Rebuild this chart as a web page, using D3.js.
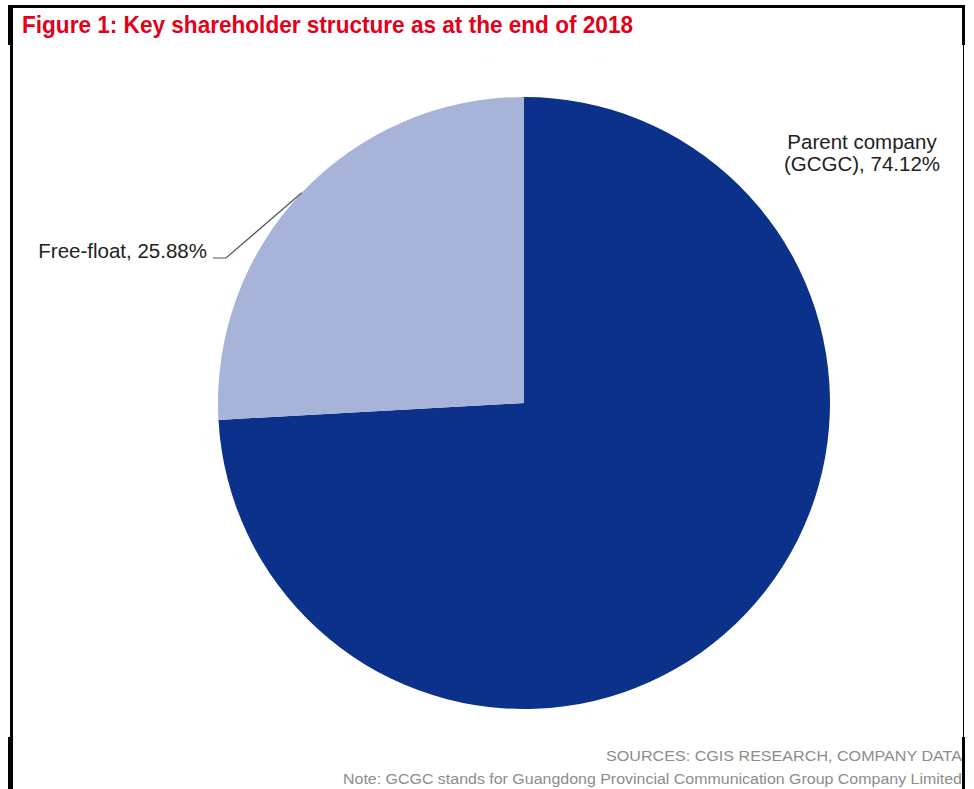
<!DOCTYPE html>
<html>
<head>
<meta charset="utf-8">
<script src="https://cdn.jsdelivr.net/npm/d3@7"></script>
<style>
  html, body { margin: 0; padding: 0; background: #fff; }
  svg { display: block; }
</style>
</head>
<body>
<svg id="chart"></svg>
<script>
// shareholder data, end of 2018
const holders = ['Parent company (GCGC)', 'Free-float'];
const shares = [74.12, 25.88];
const labelLines = [['Parent company', '(GCGC), 74.12%'], ['Free-float, 25.88%']];
const sliceColors = ['#0b318b', '#a7b3d8'];

const width = 974, height = 789;
const cx = 524, cy = 403, radius = 306;

const svg = d3.select('#chart').attr('width', width).attr('height', height);

// frame
svg.append('rect').attr('x', 8).attr('y', 5).attr('width', 957).attr('height', 3).attr('fill', '#000');
svg.append('rect').attr('x', 8).attr('y', 5).attr('width', 5).attr('height', 40).attr('fill', '#000');
svg.append('rect').attr('x', 10).attr('y', 45).attr('width', 3).attr('height', 744).attr('fill', '#000');
svg.append('rect').attr('x', 8).attr('y', 737).attr('width', 5).attr('height', 52).attr('fill', '#000');
svg.append('rect').attr('x', 962).attr('y', 5).attr('width', 3).attr('height', 40).attr('fill', '#000');
svg.append('rect').attr('x', 963).attr('y', 45).attr('width', 1).attr('height', 692).attr('fill', '#000');
svg.append('rect').attr('x', 962).attr('y', 737).attr('width', 3).attr('height', 52).attr('fill', '#000');

svg.append('text')
    .attr('x', 22).attr('y', 33)
    .attr('font-family', '"Liberation Sans Narrow", "Arial Narrow", "Liberation Sans", Arial, sans-serif')
    .attr('font-weight', 'bold')
    .attr('font-size', 24)
    .attr('fill', '#e2001a')
    .attr('textLength', 611)
    .attr('lengthAdjust', 'spacingAndGlyphs')
    .text('Figure 1: Key shareholder structure as at the end of 2018');

const pie = d3.pie().sort(null).value(d => d);
const arc = d3.arc().innerRadius(0).outerRadius(radius);
const arcs = pie(shares);

const g = svg.append('g').attr('transform', 'translate(' + cx + ',' + cy + ')');

g.selectAll('path')
    .data(arcs)
    .enter()
    .append('path')
    .attr('d', arc)
    .attr('fill', (d, i) => sliceColors[i]);

const font = '"Liberation Sans", Arial, sans-serif';

// parent company label (no leader)
const lab0 = svg.append('text')
    .attr('font-family', font).attr('font-size', 20.5).attr('fill', '#222');
labelLines[0].forEach((t, i) => {
    lab0.append('tspan').attr('x', 862).attr('y', 149 + i * 22)
        .attr('text-anchor', 'middle').text(t);
});

// free-float label with leader line to the middle of the slice edge
const ff = arcs[1];
const mid = (ff.startAngle + ff.endAngle) / 2;
const p0 = [cx + radius * Math.sin(mid), cy - radius * Math.cos(mid)];
svg.append('polyline')
    .attr('points', [[213, 258], [226, 258], p0].map(p => p.join(',')).join(' '))
    .attr('fill', 'none').attr('stroke', '#555').attr('stroke-width', 1.2);

svg.append('text')
    .attr('x', 207).attr('y', 258)
    .attr('text-anchor', 'end')
    .attr('font-family', font).attr('font-size', 20.5).attr('fill', '#222')
    .text(labelLines[1][0]);

// footer
svg.append('text')
    .attr('x', 962).attr('y', 761).attr('text-anchor', 'end')
    .attr('font-family', font).attr('font-size', 15.5).attr('fill', '#8c8c8c')
    .attr('textLength', 356).attr('lengthAdjust', 'spacingAndGlyphs')
    .text('SOURCES: CGIS RESEARCH, COMPANY DATA');
svg.append('text')
    .attr('x', 962).attr('y', 784).attr('text-anchor', 'end')
    .attr('font-family', font).attr('font-size', 15.5).attr('fill', '#8c8c8c')
    .attr('textLength', 619).attr('lengthAdjust', 'spacingAndGlyphs')
    .text('Note: GCGC stands for Guangdong Provincial Communication Group Company Limited');
</script>
</body>
</html>
